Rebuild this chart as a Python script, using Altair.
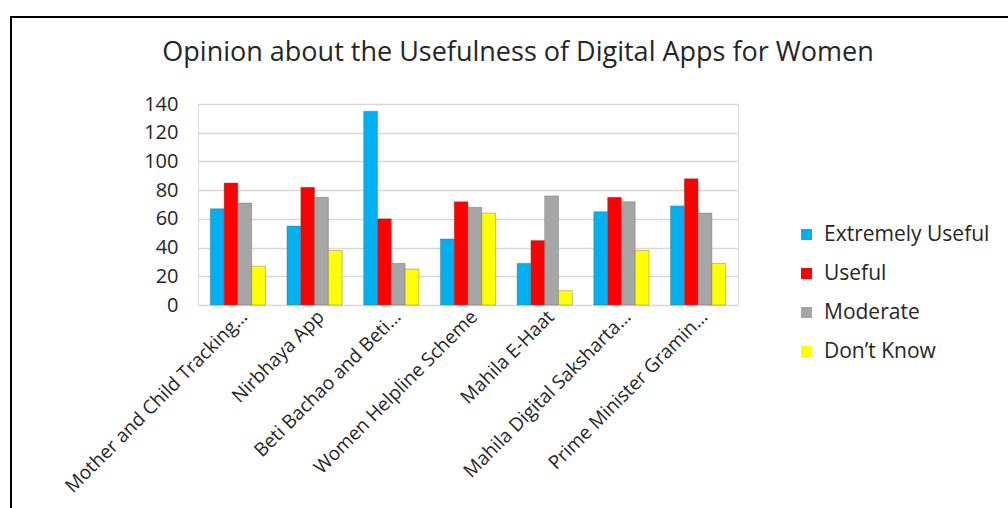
import altair as alt
import pandas as pd

categories = ["Mother and Child Tracking…", "Nirbhaya App", "Beti Bachao and Beti…",
              "Women Helpline Scheme", "Mahila E-Haat", "Mahila Digital Saksharta…",
              "Prime Minister Gramin…"]
series = ["Extremely Useful", "Useful", "Moderate", "Don’t Know"]
extremely_useful = [67, 55, 135, 46, 29, 65, 69]
useful = [85, 82, 60, 72, 45, 75, 88]
moderate = [71, 75, 29, 68, 76, 72, 64]
dont_know = [27, 38, 25, 64, 10, 38, 29]
colors = ["#00B0F0", "#FF0000", "#A6A6A6", "#FFFF00"]
y_ticks = [0, 20, 40, 60, 80, 100, 120, 140]
title_text = "Opinion about the Usefulness of Digital Apps for Women"

rows = []
for s, vals in zip(series, [extremely_useful, useful, moderate, dont_know]):
    for c, v in zip(categories, vals):
        rows.append({"App": c, "Opinion": s, "Count": v})
df = pd.DataFrame(rows)

FONT = "Open Sans"
TXT = "#262626"

bars = alt.Chart(df).mark_bar(stroke="#666666", strokeWidth=0.4).encode(
    x=alt.X("App:N", sort=categories, title=None,
            scale=alt.Scale(paddingInner=0.28, paddingOuter=0.16),
            axis=alt.Axis(labelAngle=315, labelAlign="right", labelBaseline="top",
                          labelFontSize=19, labelColor=TXT, labelFont=FONT,
                          labelPadding=2, ticks=False, domain=False, labelLimit=400)),
    xOffset=alt.XOffset("Opinion:N", sort=series),
    y=alt.Y("Count:Q", title=None,
            scale=alt.Scale(domain=[0, 140]),
            axis=alt.Axis(values=y_ticks, labelFontSize=20, labelColor=TXT,
                          labelFont=FONT, labelPadding=20, ticks=False, domain=False,
                          gridColor="#D9D9D9", gridWidth=1.5)),
    color=alt.Color("Opinion:N", sort=series,
                    scale=alt.Scale(domain=series, range=colors),
                    legend=alt.Legend(title=None, orient="none", legendX=598, legendY=120,
                                      symbolType="square", symbolSize=120,
                                      symbolStrokeWidth=0, labelFontSize=21,
                                      labelFont=FONT, labelColor=TXT, labelLimit=400,
                                      rowPadding=17, labelOffset=7)),
)

border = alt.Chart(pd.DataFrame({"k": [0]})).mark_rect(
    filled=False, stroke="#000000", strokeWidth=2
).encode(x=alt.value(-187), x2=alt.value(830), y=alt.value(-87), y2=alt.value(430))

title = alt.Chart(pd.DataFrame({"t": [title_text]})).mark_text(
    font=FONT, fontSize=27, color=TXT, align="center", baseline="middle"
).encode(text="t:N", x=alt.value(320), y=alt.value(-51))

chart = alt.layer(border, title, bars).properties(
    width=540, height=201,
    autosize=alt.AutoSizeParams(type="none"),
    padding={"left": 198, "top": 104, "right": 270, "bottom": 203},
).configure_view(stroke=None).configure(background="white")

chart.save("out.html", embed_options={"renderer": "svg", "actions": False})
